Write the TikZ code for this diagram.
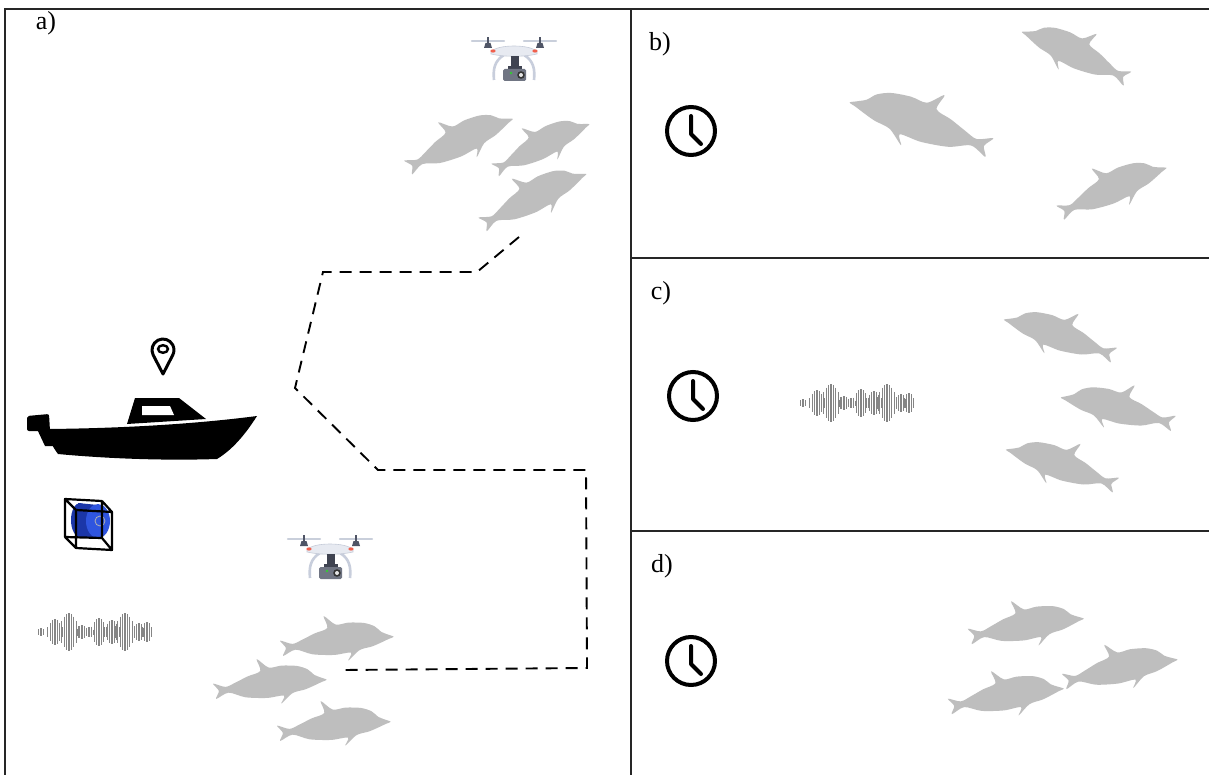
\documentclass[tikz,border=0pt]{standalone}
\usepackage{fontspec}
\setmainfont{Liberation Serif}
\definecolor{dolphingray}{HTML}{BEBEBE}
\definecolor{propcol}{HTML}{C9CFDB}
\definecolor{motorcol}{HTML}{4F5566}
\definecolor{bodycol}{HTML}{E7EAF1}
\definecolor{edgecol}{HTML}{C5CBD8}
\definecolor{legcol}{HTML}{C8CEDC}
\definecolor{gimbalcol}{HTML}{3F4351}
\definecolor{camcol}{HTML}{707583}
\definecolor{ledcol}{HTML}{F0604D}
\definecolor{drumblue}{HTML}{2F55DF}
\definecolor{drumdark}{HTML}{1B36A8}
\definecolor{wavecol}{HTML}{858585}
\tikzset{
  frameline/.style={line width=1.6pt, draw=black!85},
  lab/.style={font=\fontsize{26}{30}\selectfont, inner sep=0pt},
  trackline/.style={line width=1.9pt, dash pattern=on 12pt off 8pt},
  % dolphin silhouette, facing right, centred on the body
  dolphin/.pic={
    \fill[dolphingray] plot[smooth cycle, tension=0.5] coordinates {
      (66,2) (60,-1) (52,-5) (45,-12) (33,-17) (15,-19) (0,-18)
      (-13,-29) (-10,-15) (-25,-10) (-40,-4) (-52,0) (-66,-5) (-60,4)
      (-64,13) (-49,7) (-30,14) (-5,17) (15,16) (11,25) (25,14)
      (40,11) (52,7) (60,4)};
  },
  % quadcopter with camera gimbal
  drone/.pic={
    \draw[propcol, line width=2.2pt, line cap=round] (-42,-17) -- (-10,-17) (10,-17) -- (42,-17);
    \foreach \s in {-1,1}{
      \fill[motorcol] (\s*26-1.2,-21) rectangle (\s*26+1.2,-15);
      \fill[motorcol] (\s*26-2.5,-15) -- (\s*26+2.5,-15) -- (\s*26+4,-10) -- (\s*26-4,-10) -- cycle;
      \draw[legcol, line width=2.6pt] (\s*10,-3) .. controls (\s*20,3) and (\s*21,12) .. (\s*20,22);
    }
    \fill[bodycol, draw=edgecol, line width=0.6pt] (-23,-6) .. controls (-18,-14) and (18,-14) .. (23,-6)
      -- (23,-4) .. controls (10,-1) and (-10,-1) .. (-23,-4) -- cycle;
    \fill[ledcol] (-21,-7) ellipse (2.6 and 1.6) (21,-7) ellipse (2.6 and 1.6);
    \fill[gimbalcol] (-3,-2) rectangle (5,10);
    \fill[gimbalcol] (-6,8) rectangle (8,11);
    \fill[camcol, rounded corners=1.5pt] (-11,11) rectangle (12,23);
    \fill[black!80] (7,17) circle (3.8);
    \fill[white!80!gray] (7,17) circle (2);
    \fill[green!60!gray] (-3,15) circle (1.3);
  },
  % analogue clock face
  clock/.pic={
    \draw[line width=4pt] (0,0) circle (24);
    \draw[line width=4pt, line cap=round, line join=round] (0,-15) -- (0,3) -- (10,13);
  },
  % acoustic waveform built from envelope lobes
  wave/.pic={
    \foreach \c/\n/\a in {6/1/4, 20/3/13, 34/4/19, 47/2/7, 54/2/5, 64/3/14, 77/3/12, 90/4/19, 104/2/9, 112/2/10}{
      \foreach \k in {-\n,...,\n}{
        \pgfmathsetmacro\h{\a*cos(90*\k/(\n+1))}
        \draw[wavecol, line width=1.1pt] (\c+\k*2.4,-\h) -- (\c+\k*2.4,\h);
      }
    }
  }
}
\begin{document}
\begin{tikzpicture}[x=1pt, y=-1pt]
\useasboundingbox (0,0) rectangle (1209,775);
\fill[white] (0,0) rectangle (1209,775);

% panel frames
\draw[frameline] (1209,9) -- (5,9) -- (5,775);
\draw[frameline] (631,9) -- (631,775);
\draw[frameline] (631,258) -- (1209,258);
\draw[frameline] (631,531) -- (1209,531);

% panel labels
\node[lab] (la) at (46,23) {a)};
\node[lab] (lb) at (660,44) {b)};
\node[lab] (lc) at (661,293) {c)};
\node[lab] (ld) at (662,566) {d)};

% ---- panel a ----
% survey track
\coordinate (p1) at (519,237);
\coordinate (p2) at (477,272);
\coordinate (p3) at (323,272);
\coordinate (p4) at (295,388);
\coordinate (p5) at (378,470);
\coordinate (p6) at (586,470);
\coordinate (p7) at (587,668);
\coordinate (p8) at (343,670);
\draw[trackline] (p1) -- (p2) -- (p3) -- (p4) -- (p5) -- (p6) -- (p7) -- (p8);

% drones
\pic (droneA) at (514,58) {drone};
\pic (droneB) at (330,556) {drone};

% dolphin groups
\pic[rotate=24, scale=0.88] at (459,141) {dolphin};
\pic[rotate=25, scale=0.8] at (541,145) {dolphin};
\pic[rotate=25, scale=0.88] at (533,197) {dolphin};
\pic[rotate=5, scale=0.86] at (337,640) {dolphin};
\pic[rotate=5, scale=0.86] at (270,683) {dolphin};
\pic[rotate=5, scale=0.86] at (334,725) {dolphin};

% location pin
\draw[line width=3pt, line join=round] (163,374) -- (153.2,355.05)
  arc[start angle=152.7, end angle=387.3, radius=11] -- cycle;
\draw[line width=2.4pt] (163,349) ellipse (5 and 3.8);

% boat
\fill (27,416) [rounded corners=2pt] -- (49,414) -- (50,431) -- (27,431) -- cycle;
\fill (37,429) -- (49,429) -- (54,446) -- (45,446) -- cycle;
\fill (127,424) -- (135,398) -- (179,398) -- (206,419) -- cycle;
\fill[white] (142,406) -- (170,406) -- (174,415) -- (142,415) -- cycle;
\fill (48,429) .. controls (100,428.5) and (180,426) .. (257,416)
  .. controls (245,435) and (232,450) .. (217,459)
  .. controls (160,461) and (100,458) .. (58,454)
  .. controls (52,446) and (48,438) .. (48,429) -- cycle;

% hydrophone in its cage
\fill[drumdark] (78,503) -- (98,505) -- (98,538) -- (78,537) -- cycle;
\fill[drumdark] (80,520) ellipse (9 and 17);
\fill[drumblue] (98,521) ellipse (12 and 17);
\draw[gray!60, line width=0.8pt] (100,521) circle (5);
\draw[line width=2.2pt, line join=round]
  (65,499) -- (102,501) -- (102,538) -- (65,537) -- cycle
  (65,499) -- (76,510) (102,501) -- (112,512) (102,538) -- (112,550) (65,537) -- (76,548)
  (76,510) -- (112,512) -- (112,550) -- (76,548) -- cycle;

% waveform
\pic at (35,632) {wave};

% ---- panel b ----
\pic (clockB) at (691,131) {clock};
\pic[rotate=-17, xscale=-1, scale=1.12] at (921,122) {dolphin};
\pic[rotate=-23, xscale=-1, scale=0.88] at (1076,53) {dolphin};
\pic[rotate=22, scale=0.88] at (1112,188) {dolphin};

% ---- panel c ----
\pic (clockC) at (693,396) {clock};
\pic at (797,403) {wave};
\pic[rotate=-17, xscale=-1, scale=0.88] at (1060,335) {dolphin};
\pic[rotate=-12, xscale=-1, scale=0.88] at (1118,408) {dolphin};
\pic[rotate=-17, xscale=-1, scale=0.88] at (1062,465) {dolphin};

% ---- panel d ----
\pic (clockD) at (691,661) {clock};
\pic[rotate=8, scale=0.88] at (1026,625) {dolphin};
\pic[rotate=10, scale=0.88] at (1120,668) {dolphin};
\pic[rotate=8, scale=0.88] at (1006,695) {dolphin};
\end{tikzpicture}
\end{document}
